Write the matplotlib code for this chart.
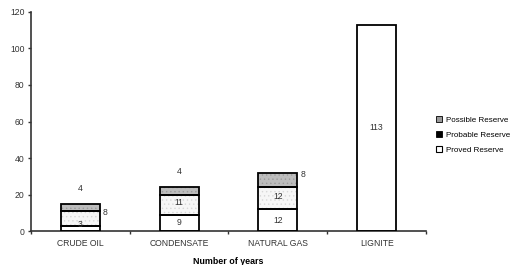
import matplotlib
matplotlib.use("Agg")
import matplotlib.pyplot as plt
from matplotlib.patches import Patch
import numpy as np

plt.rcParams['font.family'] = ['Liberation Sans', 'DejaVu Sans']
plt.rcParams['hatch.linewidth'] = 0.5

# data
categories = ["CRUDE OIL", "CONDENSATE", "NATURAL GAS", "LIGNITE"]
proved = [3, 9, 12, 113]
probable = [8, 11, 12, 0]
possible = [4, 4, 8, 0]
series_names = ["Possible Reserve", "Probable Reserve", "Proved Reserve"]
y_ticks = [0, 20, 40, 60, 80, 100, 120]

fig = plt.figure(figsize=(5.14, 2.65), dpi=100)
ax = fig.add_axes([0.060, 0.128, 0.769, 0.827])

x = np.arange(len(categories))
w = 0.395
proved = np.array(proved, dtype=float)
probable = np.array(probable, dtype=float)
possible = np.array(possible, dtype=float)

# fills first (with dot pattern), black outlines on top
ax.bar(x, proved, w, color="white", linewidth=0, zorder=2)
ax.bar(x, probable, w, bottom=proved, color="#f6f6f6", hatch="....",
       edgecolor="#d8d8d8", linewidth=0, zorder=2)
ax.bar(x, possible, w, bottom=proved + probable, color="#bcbcbc", hatch="....",
       edgecolor="#9a9a9a", linewidth=0, zorder=2)
for vals, base in [(proved, 0), (probable, proved), (possible, proved + probable)]:
    m = vals > 0
    ax.bar(x[m], vals[m], w, bottom=(base if np.isscalar(base) else base[m]),
           fill=False, edgecolor="black", linewidth=1.3, zorder=3)

fs = 6.2
# segment labels
for i in range(len(categories)):
    ax.annotate(f"{proved[i]:g}", (x[i], proved[i] / 2), xytext=(0, 3 if i == 0 else 0),
                textcoords="offset points", ha="center", va="center",
                fontsize=fs, color="#333333", zorder=4)
    if probable[i] > 0:
        top = proved[i] + probable[i]
        if i == 0:
            ax.annotate(f"{probable[i]:g}", (x[i] + w / 2, top), xytext=(2, -1),
                        textcoords="offset points", ha="left", va="center",
                        fontsize=fs, color="#333333")
        else:
            ax.text(x[i], proved[i] + probable[i] * 0.58, f"{probable[i]:g}",
                    ha="center", va="center", fontsize=fs, color="#333333", zorder=4)
    if possible[i] > 0:
        top = proved[i] + probable[i] + possible[i]
        if i == 2:
            ax.annotate(f"{possible[i]:g}", (x[i] + w / 2, top), xytext=(2, -1.5),
                        textcoords="offset points", ha="left", va="center",
                        fontsize=fs, color="#333333")
        else:
            ax.annotate(f"{possible[i]:g}", (x[i], top), xytext=(0, 11),
                        textcoords="offset points", ha="center", va="center",
                        fontsize=fs, color="#333333")

ax.set_xlim(-0.5, len(categories) - 0.5)
ax.set_ylim(0, 120)
ax.set_yticks(y_ticks)
ax.set_yticklabels([str(t) for t in y_ticks], fontsize=fs, color="#333333")
ax.set_xticks(x)
ax.set_xticklabels(categories, fontsize=fs, color="#333333")
ax.tick_params(axis="x", length=0, pad=6)
ax.set_xticks(np.arange(-0.5, len(categories)), minor=True)
ax.tick_params(axis="x", which="minor", length=2.5, width=1, color="#333333", direction="out")
ax.tick_params(axis="y", length=2.5, width=1, color="#333333", direction="out", pad=2)

for s in ["top", "right"]:
    ax.spines[s].set_visible(False)
for s in ["left", "bottom"]:
    ax.spines[s].set_linewidth(1.2)
    ax.spines[s].set_color("#333333")

ax.set_xlabel("Number of years", fontsize=6.4, fontweight="bold", labelpad=6)

handles = [Patch(facecolor="#9a9a9a", edgecolor="black", linewidth=0.6),
           Patch(facecolor="black", edgecolor="black", linewidth=0.6),
           Patch(facecolor="white", edgecolor="black", linewidth=0.8)]
fig.legend(handles, series_names, loc="center left", bbox_to_anchor=(0.848, 0.49),
           frameon=False, fontsize=5.8, handlelength=0.7, handleheight=0.7,
           handletextpad=0.5, labelspacing=0.9, borderaxespad=0, borderpad=0)

fig.savefig("out.png", dpi=100)
